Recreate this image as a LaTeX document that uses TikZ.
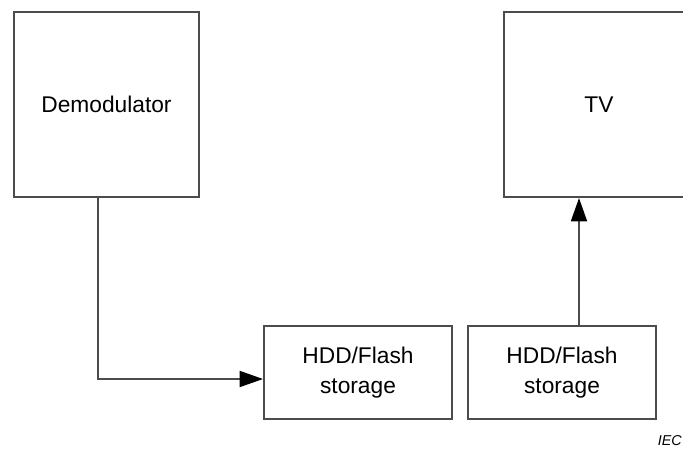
\documentclass[tikz,border=0pt]{standalone}
\usepackage{fontspec}
\setmainfont{Liberation Sans}
\usepackage{xcolor}
\usetikzlibrary{arrows.meta,positioning}

\begin{document}
\begin{tikzpicture}[
  x=0.03cm, y=-0.03cm,
  box/.style={draw=black!70, line width=1.7pt, align=center, inner sep=0pt,
    font=\fontsize{19.4}{25.5}\selectfont},
  link/.style={draw=black!70, line width=1.5pt, -{Triangle[length=0.7cm, width=0.48cm, color=black]}}
]
\clip (0,0) rectangle (683,450);
\useasboundingbox (0,0) rectangle (683,450);
\node[box, minimum width=5.55cm, minimum height=5.55cm] (demod) at (106.5,104.5) {Demodulator};
\node[box, minimum width=5.7cm, minimum height=5.55cm] (tv) at (599,104.5) {TV};
\node[box, minimum width=5.64cm, minimum height=2.79cm] (hdda) at (358,372.5) {HDD/Flash\\storage};
\node[box, minimum width=5.64cm, minimum height=2.79cm] (hddb) at (562,372.5) {HDD/Flash\\storage};
\node[font=\fontsize{12.2}{14}\selectfont\itshape, anchor=east, inner sep=0pt] (iec) at (682,441) {IEC};
\coordinate (bend) at (97.7,379);
\coordinate (up) at (579,300);
\draw[link] (demod.south -| bend) -- (bend) -- (bend -| hdda.west);
\draw[link] (hddb.north -| up) -- (tv.south -| up);
\end{tikzpicture}
\end{document}
